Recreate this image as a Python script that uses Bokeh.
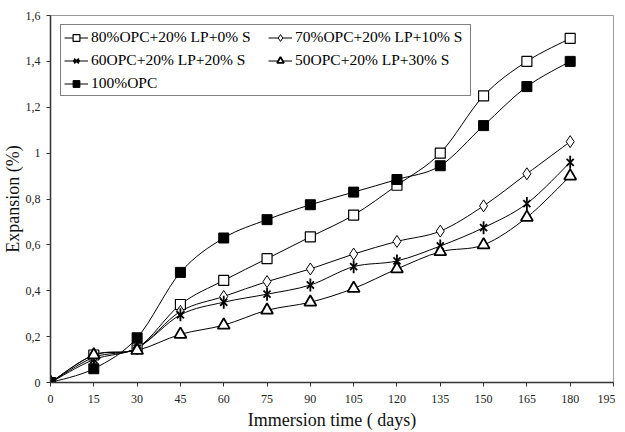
import numpy as np
from bokeh.plotting import figure
from bokeh.models import Range1d, FixedTicker, Legend, LegendItem, ColumnDataSource, Title
from bokeh.embed import file_html
from bokeh.resources import INLINE

# ---- data ----
days = [0, 15, 30, 45, 60, 75, 90, 105, 120, 135, 150, 165, 180]
s80_lp20_s0 = [0, 0.12, 0.15, 0.34, 0.445, 0.54, 0.635, 0.73, 0.86, 1.0, 1.25, 1.40, 1.50]
s70_lp20_s10 = [0, 0.11, 0.15, 0.31, 0.375, 0.44, 0.495, 0.56, 0.615, 0.66, 0.77, 0.91, 1.05]
s60_lp20_s20 = [0, 0.10, 0.15, 0.295, 0.35, 0.385, 0.425, 0.505, 0.53, 0.595, 0.675, 0.78, 0.96]
s50_lp20_s30 = [0, 0.12, 0.14, 0.21, 0.25, 0.315, 0.35, 0.41, 0.495, 0.57, 0.60, 0.72, 0.90]
s100_opc = [0, 0.06, 0.195, 0.48, 0.63, 0.71, 0.775, 0.83, 0.885, 0.945, 1.12, 1.29, 1.40]

series_names = ["80%OPC+20% LP+0% S", "70%OPC+20% LP+10% S", "60OPC+20% LP+20% S",
                "50OPC+20% LP+30% S", "100%OPC"]

x_ticks = [0, 15, 30, 45, 60, 75, 90, 105, 120, 135, 150, 165, 180, 195]
y_ticks = [0, 0.2, 0.4, 0.6, 0.8, 1.0, 1.2, 1.4, 1.6]
y_tick_labels = ["0", "0,2", "0,4", "0,6", "0,8", "1", "1,2", "1,4", "1,6"]

x_title = "Immersion time ( days)"
y_title = "Expansion (%)"

FONT = "Liberation Serif"

p = figure(frame_width=563, frame_height=367, x_range=Range1d(0, 195), y_range=Range1d(0, 1.6),
           output_backend="svg", toolbar_location=None,
           min_border_left=46, min_border_right=2, min_border_top=15, min_border_bottom=10)
p.xgrid.visible = False
p.ygrid.visible = False
p.outline_line_color = "#9a9a9a"
p.outline_line_width = 1
p.background_fill_color = "white"
p.border_fill_color = "white"

for ax in (p.xaxis[0], p.yaxis[0]):
    ax.axis_line_color = "#333333"
    ax.axis_line_width = 1.5
    ax.major_tick_line_color = "#333333"
    ax.major_tick_in = 0
    ax.major_tick_out = 4
    ax.minor_tick_line_color = None
    ax.major_label_text_font = FONT
    ax.major_label_text_font_size = "12px"
    ax.major_label_text_color = "#222222"

p.xaxis.ticker = FixedTicker(ticks=x_ticks)
p.yaxis.ticker = FixedTicker(ticks=y_ticks)
p.yaxis.major_label_overrides = {t: l for t, l in zip(y_ticks, y_tick_labels)}
p.xaxis.major_label_standoff = 8
p.yaxis.major_label_standoff = 6

# axis titles as side-panel titles so they can be shifted like the original
p.add_layout(Title(text=x_title, align="center", offset=-17, standoff=5,
                   text_font=FONT, text_font_size="18px", text_font_style="normal",
                   text_color="#111111"), "below")
p.add_layout(Title(text=y_title, align="center", offset=13, standoff=0,
                   text_font=FONT, text_font_size="18px", text_font_style="normal",
                   text_color="#111111"), "left")


def bez(x, y):
    x = np.asarray(x, float)
    y = np.asarray(y, float)
    n = len(x)
    xp = np.concatenate([[x[0]], x, [x[-1]]])
    yp = np.concatenate([[y[0]], y, [y[-1]]])
    return dict(
        x0=x[:-1], y0=y[:-1], x1=x[1:], y1=y[1:],
        cx0=x[:-1] + (xp[2:n + 1] - xp[0:n - 1]) / 6,
        cy0=y[:-1] + (yp[2:n + 1] - yp[0:n - 1]) / 6,
        cx1=x[1:] - (xp[3:n + 2] - xp[1:n]) / 6,
        cy1=y[1:] - (yp[3:n + 2] - yp[1:n]) / 6,
    )


all_series = [s80_lp20_s0, s70_lp20_s10, s60_lp20_s20, s50_lp20_s30, s100_opc]
for vals in all_series:
    p.bezier(x0="x0", y0="y0", x1="x1", y1="y1", cx0="cx0", cy0="cy0", cx1="cx1", cy1="cy1",
             source=ColumnDataSource(bez(days, vals)), line_color="black", line_width=1)


def legend_line(vals):
    # one-point line: invisible in the plot, draws the line sample in the legend
    return p.line(x=days[:1], y=vals[:1], line_color="black", line_width=1)


items = []

# 80% open square
r = [legend_line(s80_lp20_s0),
     p.scatter(days, s80_lp20_s0, marker="square", size=10, fill_color="white",
               line_color="black", line_width=1.2)]
items.append(LegendItem(label=series_names[0], renderers=r))

# 70% diamond
r = [legend_line(s70_lp20_s10),
     p.scatter(days, s70_lp20_s10, marker="diamond", size=12, fill_color="white",
               line_color="black", line_width=1.0)]
items.append(LegendItem(label=series_names[1], renderers=r))

# 60 asterisk (x + vertical dash)
r = [legend_line(s60_lp20_s20),
     p.scatter(days, s60_lp20_s20, marker="x", size=10, line_color="black", line_width=1.8),
     p.scatter(days, s60_lp20_s20, marker="dash", angle=np.pi / 2, size=13,
               line_color="black", line_width=1.8)]
items.append(LegendItem(label=series_names[2], renderers=r))

# 50 triangle
r = [legend_line(s50_lp20_s30),
     p.scatter(days, s50_lp20_s30, marker="triangle", size=12, fill_color="white",
               line_color="black", line_width=1.8)]
items.append(LegendItem(label=series_names[3], renderers=r))

# 100% filled square
r = [legend_line(s100_opc),
     p.scatter(days, s100_opc, marker="square", size=10, fill_color="black",
               line_color="black", line_width=1)]
items.append(LegendItem(label=series_names[4], renderers=r))

legend = Legend(items=items, location=(10, 286), orientation="horizontal", ncols=2,
                label_text_font=FONT, label_text_font_size="15.5px", label_text_color="black",
                glyph_width=24, glyph_height=17, label_height=17, label_width=172,
                label_standoff=3, spacing=5, padding=3, margin=0,
                border_line_color="black", border_line_width=1,
                background_fill_color="white", background_fill_alpha=1)
p.add_layout(legend)

open("out.html", "w").write(file_html(p, INLINE))
